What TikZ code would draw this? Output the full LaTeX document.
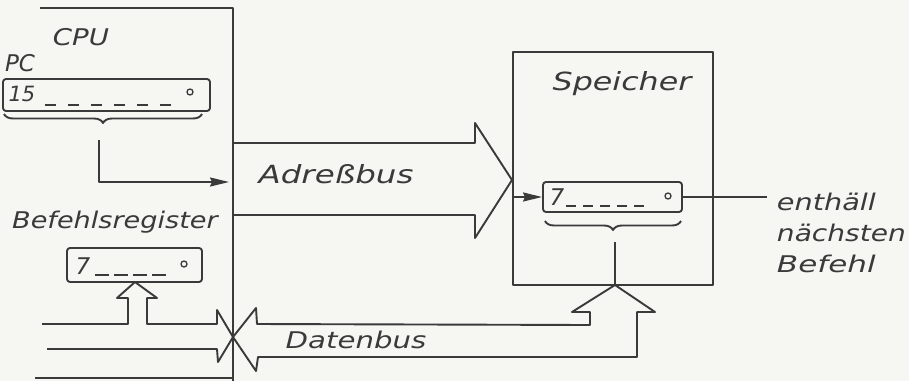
\documentclass[tikz,border=0pt]{standalone}
\usepackage{fontspec}
\usepackage{graphicx}
\setmainfont{DejaVu Sans}
\usetikzlibrary{arrows.meta,decorations.pathreplacing}
\definecolor{ink}{RGB}{58,58,58}
\definecolor{paper}{RGB}{246,246,243}
% stretched lettering for the stencil-style labels
\newcommand\hw[2]{\scalebox{#1}[1]{#2}}
\begin{document}
\begin{tikzpicture}[x=1pt,y=-1pt,
  line width=1.9pt, draw=ink, line join=round,
  hand/.style={font=\fontsize{23}{31}\selectfont\itshape, text=ink, inner sep=0pt},
  big/.style={font=\fontsize{25}{31}\selectfont\itshape, text=ink, inner sep=0pt},
  small/.style={font=\fontsize{21}{22}\selectfont\itshape, text=ink, inner sep=0pt},
  reg/.style={draw, rounded corners=3pt, inner sep=0pt},
  frame/.style={draw, inner sep=0pt},
  regbrace/.style={decorate, decoration={brace, mirror, amplitude=9pt}},
  tip/.style={-{Stealth[length=19pt,width=9pt,inset=2pt]}},
  bit/.style={line width=1.3pt}]

% paper and picture size
\fill[paper] (0,0) rectangle (909,381);
\useasboundingbox (0,0) rectangle (909,381);

% ---------------- CPU ----------------
\draw (40,8) -- (233,8) -- (233,381);
\draw (35,378) -- (233,378);
\node[hand] (cpu) at (81,37) {\hw{1.2}{CPU}};
\node[hand] (pc) at (20,63) {PC};

% program counter
\node[reg, minimum width=207pt, minimum height=32pt] (pcreg) at (106.5,95) {};
\node[small] (pcmsb) at (22,94) {15};
\draw[dash pattern=on 11pt off 12pt] (45,105) -- (180,105);
\draw[bit] (190,92) circle (3pt);
\draw[regbrace] (4,114) -- (202,114);
\coordinate (pcsel) at (99,140);
\coordinate (cpuedge) at (229,182);
\draw[tip] (pcsel) |- (cpuedge);

% instruction register
\node[hand] (irlabel) at (115,222) {\hw{1.18}{Befehlsregister}};
\node[reg, minimum width=135pt, minimum height=34pt] (ir) at (134.5,265) {};
\node[hand] (irmsb) at (83,266) {7};
\draw[dash pattern=on 14pt off 5pt] (95,275) -- (167,275);
\draw[bit] (184,264) circle (3pt);

% ---------------- address bus ----------------
\draw (233,143) -- (475,143) -- (475,123) -- (512,180) -- (475,238) -- (475,215) -- (233,215);
\node[big] (abus) at (336,174) {\hw{1.3}{Adreßbus}};

% ---------------- memory ----------------
\node[frame, minimum width=200pt, minimum height=233pt] (mem) at (613,168.5) {};
\node[big] (memlabel) at (622,84) {\hw{1.27}{Speicher}};
\node[reg, minimum width=139pt, minimum height=30pt] (memreg) at (612.5,197) {};
\node[hand] (memmsb) at (557,197) {7};
\draw[dash pattern=on 10pt off 7pt] (566,206) -- (648,206);
\draw[bit] (668,196) circle (3pt);
\draw[tip] (mem.west |- memreg.center) -- (memreg.west);
\draw[regbrace] (545,221) -- (681,221);
\coordinate (memsel) at (615,242);
\coordinate (dtip) at (615,285);
\draw (memsel) -- (dtip);
\coordinate (noteend) at (767,197);
\draw (memreg.east) -- (noteend);
\node[hand, align=left, anchor=north west] (note) at (776,192)
  {\hw{1.25}{enthäll}\\\hw{1.22}{nächsten}\\\hw{1.35}{Befehl}};

% ---------------- data bus ----------------
% branch inside the CPU, feeding the instruction register
\draw (42,324) -- (128,324) -- (128,298) -- (117,298) -- (135,282) -- (157,298)
  -- (147,298) -- (147,324) -- (217,324) -- (217,310) -- (233,337)
  -- (218,362) -- (217,349) -- (47,349);
% bus from the memory into the CPU
\draw (233,337) -- (256,308) -- (257,324) -- (590,325) -- (590,312) -- (572,312)
  -- (dtip) -- (655,312) -- (637,312) -- (637,357) -- (258,357) -- (256,371) -- cycle;
\node[hand] (dbus) at (356,340) {\hw{1.27}{Datenbus}};
\end{tikzpicture}
\end{document}
